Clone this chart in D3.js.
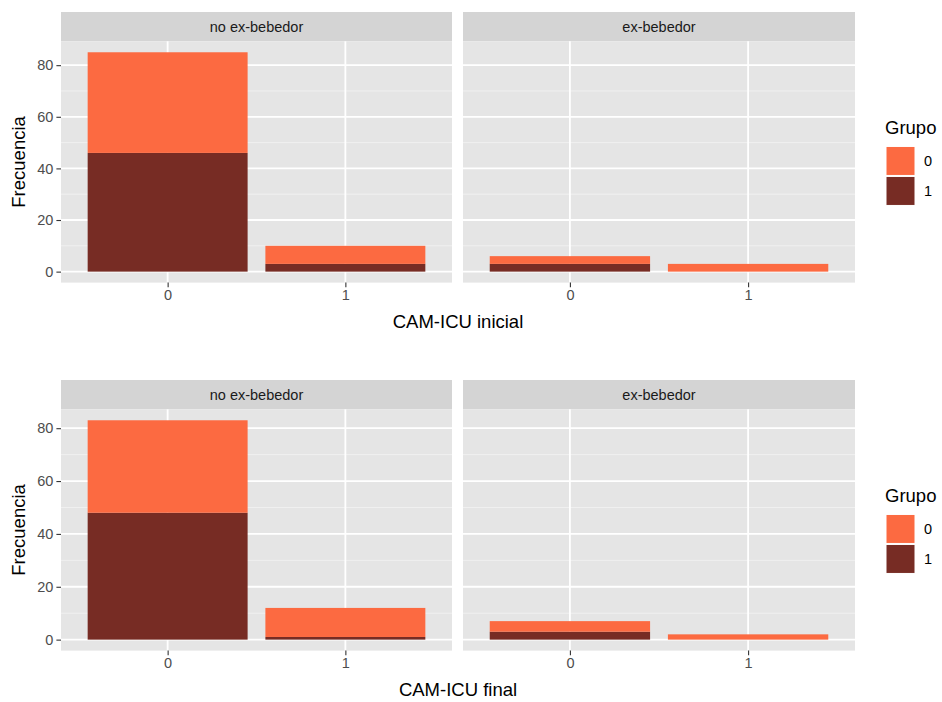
<!DOCTYPE html>
<html>
<head>
<meta charset="utf-8">
<script src="https://cdn.jsdelivr.net/npm/d3@7"></script>
<style>
  html, body { margin: 0; padding: 0; background: #fff; }
  svg { display: block; font-family: "Liberation Sans", Arial, Helvetica, sans-serif; }
</style>
</head>
<body>
<svg id="chart" width="942" height="702"></svg>
<script>
// CAM-ICU categories, facets and fill groups
const camCategories = ["0", "1"];
const facetLabels = ["no ex-bebedor", "ex-bebedor"];
const groupKeys = ["0", "1"];
const groupColors = ["#FC6A41", "#772C24"];
const yTickValues = [0, 20, 40, 60, 80];

// Counts per CAM-ICU category (0, 1) — initial assessment
const inicialNoExGrupo0 = [39, 7];
const inicialNoExGrupo1 = [46, 3];
const inicialExGrupo0 = [3, 3];
const inicialExGrupo1 = [3, 0];

// Counts per CAM-ICU category (0, 1) — final assessment
const finalNoExGrupo0 = [35, 11];
const finalNoExGrupo1 = [48, 1];
const finalExGrupo0 = [4, 2];
const finalExGrupo1 = [3, 0];

const rows = [
  { title: "CAM-ICU inicial", top: 12, facets: [[inicialNoExGrupo0, inicialNoExGrupo1], [inicialExGrupo0, inicialExGrupo1]] },
  { title: "CAM-ICU final", top: 380, facets: [[finalNoExGrupo0, finalNoExGrupo1], [finalExGrupo0, finalExGrupo1]] }
];

const svg = d3.select("#chart");
const panelX = [[61, 452], [463, 855]];
const stripH = 29.3;
const panelH = 241.3;

const textGrey = "#4D4D4D";

rows.forEach(row => {
  const g = svg.append("g");
  const panelTop = row.top + stripH;
  const panelBottom = panelTop + panelH;

  // stacked tables
  const tables = row.facets.map(([g0, g1]) =>
    camCategories.map((c, i) => ({ cam: c, "0": g0[i], "1": g1[i] })));
  const maxTotal = d3.max(tables.flat(), d => d["0"] + d["1"]);
  const y = d3.scaleLinear()
    .domain([-0.05 * maxTotal, maxTotal * 1.05])
    .range([panelBottom, panelTop]);
  const minorTicks = d3.range(10, maxTotal * 1.05, 20);

  // draw bottom group ("1") first, then "0" on top
  const stack = d3.stack().keys(["1", "0"]);

  tables.forEach((table, fi) => {
    const [x0, x1] = panelX[fi];
    const x = d3.scalePoint().domain(camCategories).range([x0, x1]).padding(0.6);
    const bw = x.step() * 0.9;
    const pg = g.append("g");

    // strip
    pg.append("rect").attr("x", x0).attr("y", row.top)
      .attr("width", x1 - x0).attr("height", stripH).attr("fill", "#D4D4D4");
    pg.append("text").attr("x", (x0 + x1) / 2).attr("y", row.top + stripH / 2)
      .attr("text-anchor", "middle").attr("dominant-baseline", "central")
      .attr("font-size", 14.5).attr("fill", "#1A1A1A").text(facetLabels[fi]);

    // panel background
    pg.append("rect").attr("x", x0).attr("y", panelTop)
      .attr("width", x1 - x0).attr("height", panelH).attr("fill", "#E5E5E5");

    // grid
    pg.selectAll(".minor").data(minorTicks).join("line")
      .attr("x1", x0).attr("x2", x1)
      .attr("y1", d => y(d)).attr("y2", d => y(d))
      .attr("stroke", "#F2F2F2").attr("stroke-width", 0.9);
    pg.selectAll(".majorY").data(yTickValues).join("line")
      .attr("x1", x0).attr("x2", x1)
      .attr("y1", d => y(d)).attr("y2", d => y(d))
      .attr("stroke", "#fff").attr("stroke-width", 1.8);
    pg.selectAll(".majorX").data(camCategories).join("line")
      .attr("x1", d => x(d)).attr("x2", d => x(d))
      .attr("y1", panelTop).attr("y2", panelBottom)
      .attr("stroke", "#fff").attr("stroke-width", 1.8);

    // bars
    const series = stack(table);
    pg.selectAll(".layer").data(series).join("g")
      .attr("fill", s => groupColors[groupKeys.indexOf(s.key)])
      .selectAll("rect").data(s => s).join("rect")
      .attr("x", d => x(d.data.cam) - bw / 2)
      .attr("width", bw)
      .attr("y", d => y(d[1]))
      .attr("height", d => y(d[0]) - y(d[1]));

    // x axis
    const xa = pg.append("g").attr("transform", `translate(0,${panelBottom})`)
      .call(d3.axisBottom(x).tickSize(4.6).tickPadding(3));
    xa.select(".domain").remove();
    xa.selectAll("line").attr("stroke", "#333").attr("stroke-width", 1.1);
    xa.selectAll("text").attr("font-size", 14.5).attr("fill", textGrey)
      .attr("font-family", "Liberation Sans, Arial, sans-serif");

    if (fi === 0) {
      const ya = pg.append("g").attr("transform", `translate(${x0},0)`)
        .call(d3.axisLeft(y).tickValues(yTickValues).tickSize(4.6).tickPadding(3));
      ya.select(".domain").remove();
      ya.selectAll("line").attr("stroke", "#333").attr("stroke-width", 1.1);
      ya.selectAll("text").attr("font-size", 14.5).attr("fill", textGrey)
        .attr("font-family", "Liberation Sans, Arial, sans-serif");
    }
  });

  // axis titles
  g.append("text").attr("x", (panelX[0][0] + panelX[1][1]) / 2).attr("y", panelBottom + 45)
    .attr("text-anchor", "middle").attr("font-size", 18.5).attr("fill", "#000").text(row.title);
  g.append("text")
    .attr("transform", `translate(25,${(panelTop + panelBottom) / 2}) rotate(-90)`)
    .attr("text-anchor", "middle").attr("font-size", 18.5).attr("fill", "#000").text("Frecuencia");

  // legend
  const lgTop = panelTop + (panelH / 2) - 41.5;
  const lg = g.append("g").attr("transform", `translate(885,${lgTop})`);
  lg.append("text").attr("x", 0).attr("y", 14).attr("font-size", 18.5).attr("fill", "#000").text("Grupo");
  groupKeys.forEach((k, i) => {
    lg.append("rect").attr("x", 1).attr("y", 26 + i * 30)
      .attr("width", 29).attr("height", 29)
      .attr("fill", groupColors[i]).attr("stroke", "#fff").attr("stroke-width", 1);
    lg.append("text").attr("x", 39).attr("y", 26 + i * 30 + 14.5)
      .attr("dominant-baseline", "central").attr("font-size", 14.5).attr("fill", "#000").text(k);
  });
});
</script>
</body>
</html>
